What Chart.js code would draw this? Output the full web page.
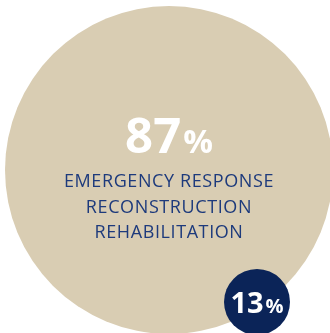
<!DOCTYPE html>
<html>
<head>
<meta charset="utf-8">
<script src="https://cdn.jsdelivr.net/npm/chart.js@4/dist/chart.umd.min.js"></script>
<style>
html,body{margin:0;padding:0;background:#fff;}
#wrap{width:330px;height:333px;position:relative;}
</style>
</head>
<body>
<div id="wrap"><canvas id="c" width="330" height="333"></canvas></div>
<script>
// Data
const categories = ["Emergency response, reconstruction, rehabilitation", "Other"];
const values = [87, 13];
const captionLines = ["EMERGENCY RESPONSE", "RECONSTRUCTION", "REHABILITATION"];

// Layout (chart units = pixels of the canvas)
const bubbleX = [169, 257];
const bubbleY = [170, 302];
const bubbleR = [164, 33];

const beige = '#d9cdb3';
const navyText = '#1d3a7c';

const labelPlugin = {
  id: 'labels',
  afterDatasetsDraw(chart) {
    const ctx = chart.ctx;
    const meta = chart.getDatasetMeta(0);
    const big = meta.data[0];
    const small = meta.data[1];
    function pct(el, val, numSize, pSize, dy) {
      ctx.save();
      ctx.fillStyle = '#ffffff';
      ctx.textBaseline = 'alphabetic';
      ctx.font = 'bold ' + numSize + 'px "Open Sans", sans-serif';
      const n = String(val);
      const wn = ctx.measureText(n).width;
      ctx.font = 'bold ' + pSize + 'px "Open Sans", sans-serif';
      const wp = ctx.measureText('%').width;
      const gap = 2;
      let x = el.x - (wn + wp + gap) / 2;
      ctx.font = 'bold ' + numSize + 'px "Open Sans", sans-serif';
      ctx.textAlign = 'left';
      ctx.fillText(n, x, el.y + dy);
      ctx.font = 'bold ' + pSize + 'px "Open Sans", sans-serif';
      ctx.fillText('%', x + wn + gap, el.y + dy);
      ctx.restore();
    }
    pct(big, values[0], 49, 33, -17);
    ctx.save();
    ctx.fillStyle = navyText;
    ctx.font = '18px "Open Sans", sans-serif';
    try { ctx.letterSpacing = '0.6px'; } catch (e) {}
    ctx.textAlign = 'center';
    ctx.textBaseline = 'alphabetic';
    captionLines.forEach((t, i) => ctx.fillText(t, big.x, big.y + 17 + i * 25.5));
    ctx.restore();
    pct(small, values[1], 29, 20, 11);
  }
};

new Chart(document.getElementById('c'), {
  type: 'bubble',
  data: {
    labels: categories,
    datasets: [{
      data: values.map((v, i) => ({x: bubbleX[i], y: bubbleY[i], r: bubbleR[i], v: v})),
      clip: false,
      borderWidth: 0,
      backgroundColor: (c) => {
        if (c.dataIndex === 0) return beige;
        const el = c.element;
        if (!el || el.x === undefined || isNaN(el.x)) return '#0b2458';
        const ctx = c.chart.ctx;
        const k = 0.6;
        const g = ctx.createLinearGradient(el.x - 35 * k, el.y - 55 * k, el.x + 35 * k, el.y + 55 * k);
        g.addColorStop(0, '#0a214f');
        g.addColorStop(0.5, '#0a214f');
        g.addColorStop(0.5, '#0c2a6e');
        g.addColorStop(1, '#0c2a6e');
        return g;
      },
      hoverBackgroundColor: (c) => c.dataIndex === 0 ? beige : '#0c296b'
    }]
  },
  options: {
    responsive: false,
    animation: false,
    events: [],
    layout: {padding: 0, autoPadding: false},
    plugins: {legend: {display: false}, tooltip: {enabled: false}},
    scales: {
      x: {type: 'linear', display: false, min: 0, max: 330},
      y: {type: 'linear', display: false, min: 0, max: 333, reverse: true}
    }
  },
  plugins: [labelPlugin]
});
</script>
</body>
</html>
